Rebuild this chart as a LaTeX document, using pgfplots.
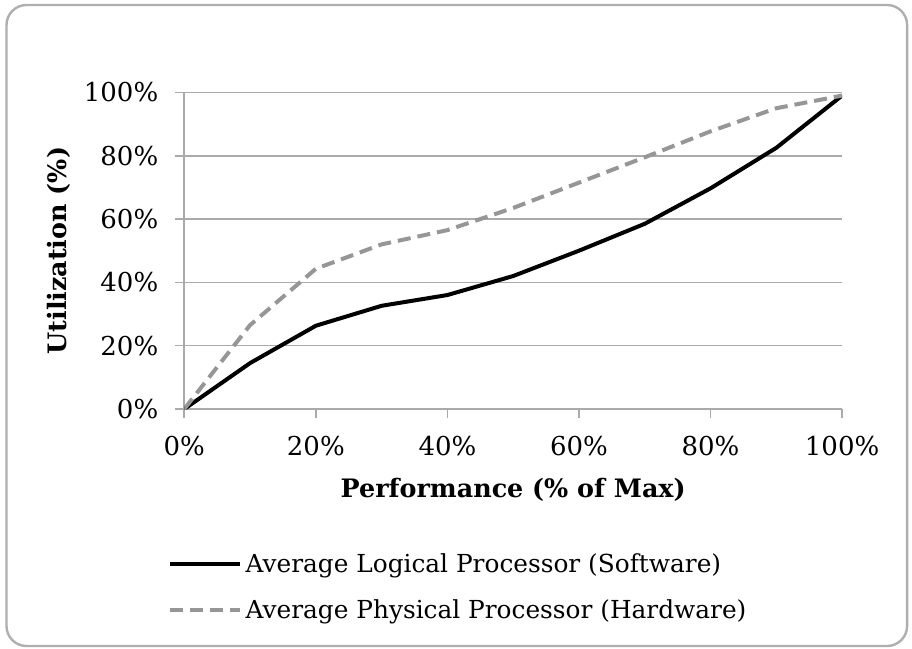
\documentclass[border=0pt]{standalone}
\usepackage{pgfplots}
\pgfplotsset{compat=1.18}
\usepackage{fontspec}
\setmainfont{DejaVu Serif}

\definecolor{gridgray}{RGB}{170,170,170}
\definecolor{hwgray}{RGB}{150,150,150}
\definecolor{framegray}{RGB}{175,175,175}

\begin{document}
\begin{tikzpicture}
% keep the page the size of the reference
\path[use as bounding box] (-92.15pt,-120pt) rectangle (363.85pt,204.5pt);
\draw[framegray, line width=1.2pt, rounded corners=10pt]
  (-88.9pt,-118.5pt) rectangle (361.4pt,202pt);
\begin{axis}[
    at={(0,0)}, anchor=south west,
    scale only axis,
    width=328.9pt, height=158.3pt,
    xmin=0, xmax=100, ymin=0, ymax=100,
    xtick={0,20,...,100}, ytick={0,20,...,100},
    xticklabel={\pgfmathprintnumber{\tick}\%},
    yticklabel={\pgfmathprintnumber{\tick}\%},
    /pgf/number format/assume math mode=true,
    tick label style={font=\fontsize{13}{15}\selectfont, text=black},
    xticklabel style={yshift=-5.5pt},
    yticklabel style={xshift=-5pt},
    axis x line*=bottom, axis y line*=left,
    axis line style={gridgray, line width=0.8pt, -},
    tick style={gridgray, line width=0.8pt},
    tick align=outside, major tick length=4.5pt,
    ymajorgrids, grid style={gridgray, line width=0.8pt},
    xlabel={Performance (\% of Max)},
    ylabel={Utilization (\%)},
    every axis x label/.style={at={(axis description cs:0.5,0)}, yshift=-40.5pt,
      anchor=center, font=\fontsize{12.7}{15}\selectfont\bfseries},
    every axis y label/.style={at={(axis description cs:0,0.5)}, xshift=-62.6pt,
      rotate=90, anchor=center, font=\fontsize{12.7}{15}\selectfont\bfseries},
    legend style={at={(axis description cs:0,0)}, anchor=north west,
      xshift=-8.5pt, yshift=-70pt, draw=none, fill=none,
      font=\fontsize{12.4}{14}\selectfont, row sep=8pt, inner sep=0pt},
    legend cell align=left,
    legend image code/.code={\draw[#1] (0pt,0pt) -- (35pt,0pt);},
  ]
\addplot[black, line width=2pt, line join=round] coordinates {
  (0,0) (10,14.5) (20,26.3) (30,32.6) (40,36) (50,42)
  (60,50) (70,58.5) (80,69.7) (90,82.5) (100,99)
};
\addlegendentry{Average Logical Processor (Software)}
\addplot[hwgray, line width=2pt, dash pattern=on 6.5pt off 3.5pt] coordinates {
  (0,0) (10,26.5) (20,44.3) (30,52) (40,56.5) (50,63.5)
  (60,71.5) (70,79.5) (80,87.7) (90,95) (100,99)
};
\addlegendentry{Average Physical Processor (Hardware)}
\end{axis}
\end{tikzpicture}
\end{document}
